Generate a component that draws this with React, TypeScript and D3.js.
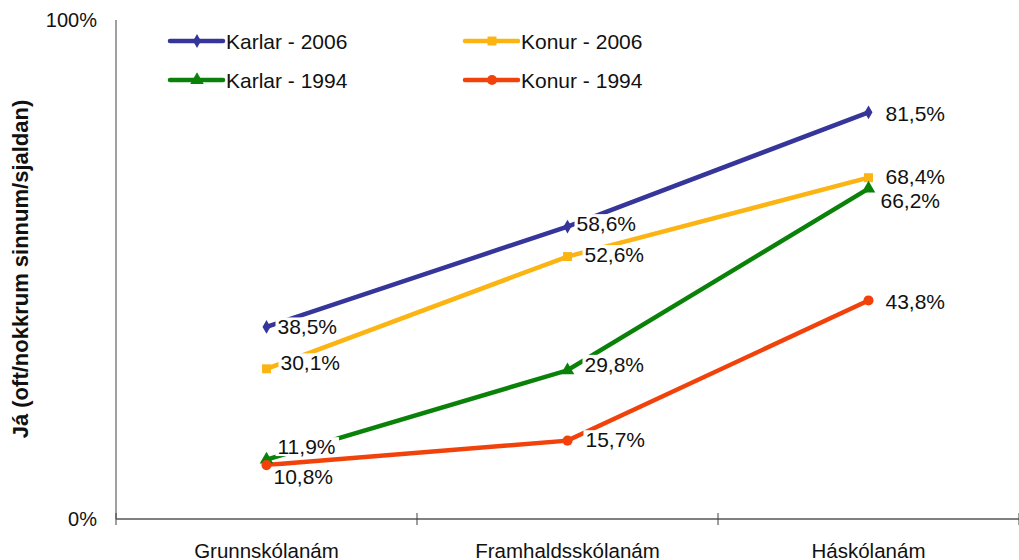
import React from "react";
import * as d3 from "d3";

const categories = ["Grunnskólanám", "Framhaldsskólanám", "Háskólanám"];
const seriesNames = ["Karlar - 2006", "Konur - 2006", "Karlar - 1994", "Konur - 1994"];
const karlar2006 = [38.5, 58.6, 81.5];
const konur2006 = [30.1, 52.6, 68.4];
const karlar1994 = [11.9, 29.8, 66.2];
const konur1994 = [10.8, 15.7, 43.8];
const yTicks = [0, 100];

const seriesValues = [karlar2006, konur2006, karlar1994, konur1994];
const colors = ["#35359A", "#FBB412", "#0A820A", "#F2420C"];
const markers = [d3.symbolDiamond, d3.symbolSquare, d3.symbolTriangle, d3.symbolCircle];
const markerSizes = [55, 80, 80, 80];
// label offsets (dx, dy) relative to the point
const labelDx = [[11, 9, 17], [14, 17, 17], [11, 17, 12], [7, 18, 17]];
const labelDy = [[0, -3, 1], [-6, -2, -1], [-13, -6, 12], [11, -1, 1]];

const W = 1019, H = 560;
const left = 116, right = 1019, top = 20, bottom = 519;

const fmt = (v: number) => v.toFixed(1).replace(".", ",") + "%";

export default function App() {
  const x = d3.scaleBand().domain(categories).range([left, right]).padding(0);
  const y = d3.scaleLinear().domain([0, 100]).range([bottom, top]);
  const cx = (c: string) => (x(c) as number) + x.bandwidth() / 2;
  const line = d3.line<number>().x((_, i) => cx(categories[i])).y((v) => y(v));
  const fs = 21;
  const font = "'Liberation Sans', Arial, sans-serif";
  const boundaries = [...categories.map((c) => x(c) as number), right];

  return (
    <svg width={W} height={H} style={{ position: "absolute", left: 0, top: 0, background: "#fff" }} fontFamily={font}>
      {/* axes */}
      <line x1={left} x2={left} y1={top} y2={bottom} stroke="#808080" strokeWidth={1.5} />
      <line x1={left} x2={right} y1={bottom} y2={bottom} stroke="#808080" strokeWidth={2} />
      {boundaries.map((b, i) => (
        <line key={i} x1={b} x2={b} y1={bottom - 6} y2={bottom + 6} stroke="#404040" strokeWidth={1} />
      ))}
      {yTicks.map((t) => (
        <text key={t} x={97} y={y(t)} textAnchor="end" dominantBaseline="central" fontSize={20} fill="#111">
          {t + "%"}
        </text>
      ))}
      {categories.map((c) => (
        <text key={c} x={cx(c)} y={558} textAnchor="middle" fontSize={20.5} fill="#111">
          {c}
        </text>
      ))}
      <text
        transform={`translate(20, ${269}) rotate(-90)`}
        textAnchor="middle"
        dominantBaseline="central"
        fontSize={22}
        fontWeight="bold"
        fill="#111"
      >
        Já (oft/nokkrum sinnum/sjaldan)
      </text>

      {/* lines */}
      {seriesValues.map((vals, s) => (
        <path key={s} d={line(vals) as string} fill="none" stroke={colors[s]} strokeWidth={4.5} />
      ))}
      {seriesValues.map((vals, s) =>
        vals.map((v, i) => (
          <path
            key={`${s}-${i}`}
            d={d3.symbol().type(markers[s]).size(markerSizes[s])() as string}
            transform={`translate(${cx(categories[i])},${y(v)})`}
            fill={colors[s]}
          />
        ))
      )}
      {/* labels */}
      {seriesValues.map((vals, s) =>
        vals.map((v, i) => {
          const lx = cx(categories[i]) + labelDx[s][i];
          const ly = y(v) + labelDy[s][i];
          const w = 2.835 * fs;
          return (
            <g key={`l-${s}-${i}`}>
              <rect x={lx - 2} y={ly - fs * 0.45} width={w + 4} height={fs * 0.9} fill="#fff" />
              <text x={lx} y={ly} dominantBaseline="central" fontSize={fs} fill="#111">
                {fmt(v)}
              </text>
            </g>
          );
        })
      )}

      {/* legend */}
      {seriesNames.map((n, s) => {
        const lx = s % 2 === 0 ? 170 : 465;
        const ly = s < 2 ? 41 : 80;
        return (
          <g key={n}>
            <line x1={lx} x2={lx + 53} y1={ly} y2={ly} stroke={colors[s]} strokeWidth={4.5} strokeLinecap="round" />
            <path
              d={d3.symbol().type(markers[s]).size(markerSizes[s])() as string}
              transform={`translate(${lx + 27},${ly})`}
              fill={colors[s]}
            />
            <text x={lx + 56} y={ly} dominantBaseline="central" fontSize={21} fill="#111">
              {n}
            </text>
          </g>
        );
      })}
    </svg>
  );
}
